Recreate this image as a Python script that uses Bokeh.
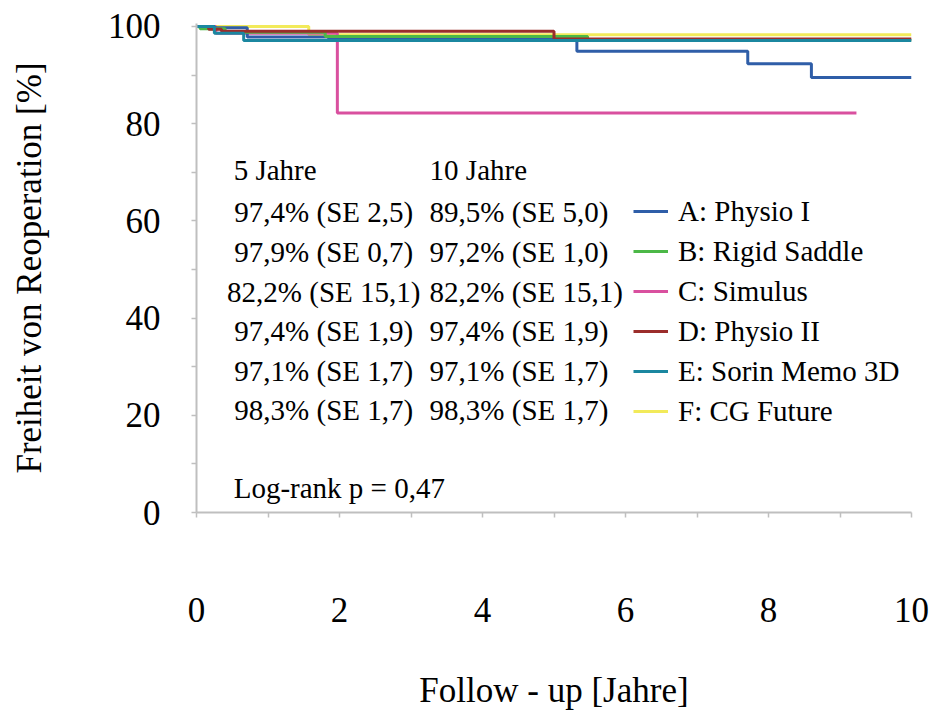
from bokeh.plotting import figure
from bokeh.models import ColumnDataSource, FixedTicker, Legend, LegendItem, Range1d
from bokeh.core.properties import value
from bokeh.embed import file_html
from bokeh.resources import INLINE

FONT = "Liberation Serif"

# ---- data (Kaplan-Meier step curves, years vs. % free of reoperation) ----
series_names = ["A: Physio I", "B: Rigid Saddle", "C: Simulus",
                "D: Physio II", "E: Sorin Memo 3D", "F: CG Future"]
series_colors = ["#2f5ea8", "#4cb847", "#d9509f", "#9b2d2b", "#1b87a0", "#f2ea5a"]

a_years = [0, 0.25, 0.71, 1.85, 5.32, 7.71, 8.60, 10.0]
a_surv = [100, 99.7, 97.8, 97.4, 94.9, 92.3, 89.5, 89.5]
b_years = [0, 0.05, 0.40, 1.80, 5.47, 10.0]
b_surv = [100, 99.5, 98.8, 97.9, 97.2, 97.2]
c_years = [0, 0.27, 1.97, 9.23]
c_surv = [100, 98.6, 82.2, 82.2]
d_years = [0, 0.17, 0.35, 5.00, 10.0]
d_surv = [100, 99.4, 99.0, 97.4, 97.4]
e_years = [0, 0.25, 0.66, 10.0]
e_surv = [100, 98.6, 97.1, 97.1]
f_years = [0, 1.57, 10.0]
f_surv = [100, 98.3, 98.3]

col5_header = "5 Jahre"
col10_header = "10 Jahre"
col5_text = ["97,4% (SE 2,5)", "97,9% (SE 0,7)", "82,2% (SE 15,1)",
             "97,4% (SE 1,9)", "97,1% (SE 1,7)", "98,3% (SE 1,7)"]
col10_text = ["89,5% (SE 5,0)", "97,2% (SE 1,0)", "82,2% (SE 15,1)",
              "97,4% (SE 1,9)", "97,1% (SE 1,7)", "98,3% (SE 1,7)"]
logrank_text = "Log-rank p = 0,47"

x_ticks = list(range(0, 11))
x_tick_labels = {t: (str(t) if t % 2 == 0 else "") for t in x_ticks}
y_ticks = list(range(0, 101, 10))
y_tick_labels = {t: (str(t) if t % 20 == 0 else "") for t in y_ticks}

# ---- figure ----
p = figure(width=934, height=717, output_backend="svg", toolbar_location=None,
           x_range=Range1d(0, 10), y_range=Range1d(0, 100.6),
           min_border_left=196, min_border_right=23,
           min_border_top=23, min_border_bottom=205)
p.outline_line_color = None
p.xgrid.visible = False
p.ygrid.visible = False
p.background_fill_color = "white"
p.border_fill_color = "white"

axis_color = "#bfbfbf"
for ax in (p.xaxis[0], p.yaxis[0]):
    ax.axis_line_color = axis_color
    ax.axis_line_width = 2
    ax.major_tick_line_color = axis_color
    ax.major_tick_line_width = 1.5
    ax.major_tick_in = 0
    ax.major_tick_out = 5
    ax.minor_tick_line_color = None
    ax.major_label_text_font = FONT
    ax.major_label_text_font_size = "35px"
    ax.major_label_text_color = "black"
    ax.axis_label_text_font = FONT
    ax.axis_label_text_font_size = "35px"
    ax.axis_label_text_font_style = "normal"
    ax.axis_label_text_color = "black"

p.xaxis.ticker = FixedTicker(ticks=x_ticks)
p.xaxis.major_label_overrides = x_tick_labels
p.xaxis.major_label_standoff = 80
p.xaxis.axis_label = "Follow - up [Jahre]"
p.xaxis.axis_label_standoff = 46

p.yaxis.ticker = FixedTicker(ticks=y_ticks)
p.yaxis.major_label_overrides = y_tick_labels
p.yaxis.major_label_standoff = 31
p.yaxis.axis_label = "Freiheit von Reoperation [%]"
p.yaxis.axis_label_standoff = 56

# ---- curves ----
curves = {
    "A": (a_years, a_surv),
    "B": (b_years, b_surv),
    "C": (c_years, c_surv),
    "D": (d_years, d_surv),
    "E": (e_years, e_surv),
    "F": (f_years, f_surv),
}
keys = ["A", "B", "C", "D", "E", "F"]
renderers = {}
draw_order = ["F", "C", "A", "B", "D", "E"]
for k in draw_order:
    i = keys.index(k)
    xs, ys = curves[k]
    src = ColumnDataSource(data=dict(x=xs, y=ys))
    renderers[k] = p.step("x", "y", source=src, mode="after",
                          line_color=series_colors[i], line_width=3)

legend = Legend(items=[LegendItem(label=series_names[i], renderers=[renderers[k]])
                       for i, k in enumerate(keys)],
                location=(437, 81), orientation="vertical",
                padding=0, margin=0, spacing=0,
                glyph_width=35, glyph_height=40, label_height=40,
                label_standoff=10,
                label_text_font=FONT, label_text_font_size="29px",
                label_text_color="black",
                border_line_color=None, background_fill_alpha=0)
p.add_layout(legend, "center")

# ---- text table ----
row_y = [61.8, 53.6, 45.3, 37.3, 29.1, 21.0]
src5 = ColumnDataSource(data=dict(x=[1.78] * len(col5_text), y=row_y, t=col5_text))
p.text("x", "y", text="t", source=src5, text_font=value(FONT),
       text_font_size="29px", text_align="center", text_baseline="middle",
       text_color="black")
src10 = ColumnDataSource(data=dict(x=[3.26] * len(col10_text), y=row_y, t=col10_text))
p.text("x", "y", text="t", source=src10, text_font=value(FONT),
       text_font_size="29px", text_align="left", text_baseline="middle",
       text_color="black")
srch = ColumnDataSource(data=dict(x=[0.52, 3.26, 0.52], y=[70.4, 70.4, 5.1],
                                  t=[col5_header, col10_header, logrank_text]))
p.text("x", "y", text="t", source=srch, text_font=value(FONT),
       text_font_size="29px", text_align="left", text_baseline="middle",
       text_color="black")

open("out.html", "w").write(file_html(p, INLINE))
